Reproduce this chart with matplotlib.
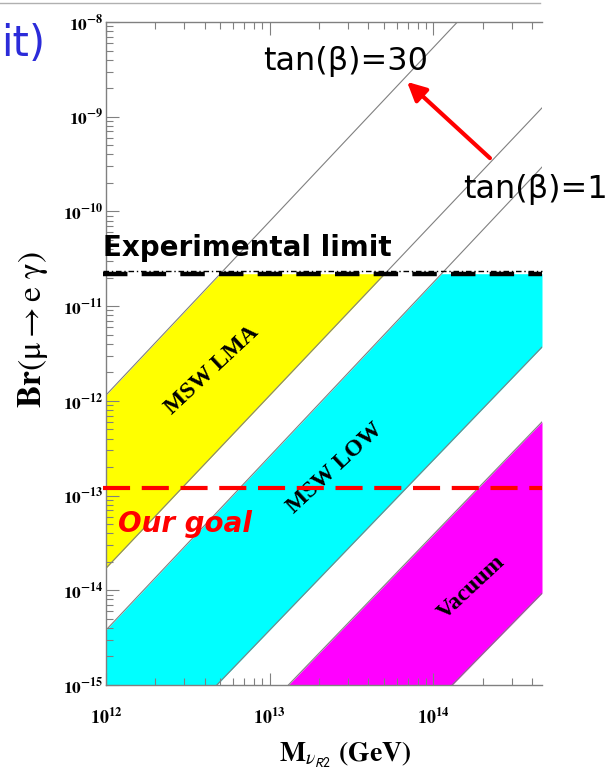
import numpy as np
import matplotlib
matplotlib.use("Agg")
import matplotlib.pyplot as plt
from matplotlib.ticker import FixedLocator, NullFormatter

plt.rcParams['mathtext.fontset'] = 'stix'

W, H = 608, 774

# axis ranges
m_min, m_max = 1e12, 4.6e14
br_min, br_max = 1e-15, 1e-8

# band edges: straight lines in log-log, each given by two (M, Br) points
lma_upper_M = [1e12, 1.40e14]
lma_upper_Br = [1.15e-12, 1e-8]          # tan(beta)=30
lma_lower_M = [1e12, 4.6e14]
lma_lower_Br = [1.71e-14, 1.24e-9]       # tan(beta)=1
low_upper_M = [1e12, 4.6e14]
low_upper_Br = [3.8e-15, 2.94e-10]
low_lower_M = [4.75e12, 4.6e14]
low_lower_Br = [1e-15, 3.7e-12]
vac_upper_M = [1.30e13, 4.6e14]
vac_upper_Br = [1e-15, 6.0e-13]
vac_lower_M = [1.30e14, 4.6e14]
vac_lower_Br = [1e-15, 9.3e-15]

exp_limit = 2.2e-11
our_goal = 1.2e-13

x_exponents = [12, 13, 14]
y_exponents = [-15, -14, -13, -12, -11, -10, -9, -8]

band_names = ['MSW LMA', 'MSW LOW', 'Vacuum']
band_colors = ['#ffff00', '#00ffff', '#ff00ff']
band_label_M = [4.45e12, 2.51e13, 1.71e14]
band_label_Br = [2.1e-12, 1.95e-13, 1.08e-14]


def edge(Ms, Brs, grid):
    lx = np.log10(Ms)
    ly = np.log10(Brs)
    s = (ly[1] - ly[0]) / (lx[1] - lx[0])
    return 10 ** (ly[0] + s * (np.log10(grid) - lx[0]))


fig = plt.figure(figsize=(W / 100, H / 100), dpi=100)
ax = fig.add_axes([106 / W, 1 - 685 / H, 436 / W, 663 / H])
ax.set_xscale('log')
ax.set_yscale('log')
ax.set_xlim(m_min, m_max)
ax.set_ylim(br_min, br_max)

grid = np.logspace(np.log10(m_min), np.log10(m_max), 800)
bands = [
    (lma_lower_M, lma_lower_Br, lma_upper_M, lma_upper_Br),
    (low_lower_M, low_lower_Br, low_upper_M, low_upper_Br),
    (vac_lower_M, vac_lower_Br, vac_upper_M, vac_upper_Br),
]
for (lm, lb, um, ub), col in zip(bands, band_colors):
    lo = np.clip(edge(lm, lb, grid), br_min, exp_limit)
    hi = np.clip(edge(um, ub, grid), br_min, exp_limit)
    ax.fill_between(grid, lo, hi, where=hi > lo, color=col, lw=0, zorder=1)
    for Ms, Brs in ((lm, lb), (um, ub)):
        ax.plot(grid, edge(Ms, Brs, grid), color='#808080', lw=0.8, zorder=2)

for name, mx, by in zip(band_names, band_label_M, band_label_Br):
    ax.text(mx, by, name, rotation=43, ha='center', va='center',
            rotation_mode='anchor', family='Liberation Serif',
            fontweight='bold', fontsize=17, zorder=3)

# experimental limit and goal
ax.axhline(exp_limit, xmin=-0.008, xmax=1, color='black', lw=3.2,
           dashes=(5.5, 3.2), clip_on=False, zorder=4)
ax.axhline(exp_limit * 1.06, xmin=-0.008, xmax=1, color='black', lw=1,
           ls=(0, (4, 2, 1, 2)), clip_on=False, zorder=4)
ax.axhline(our_goal, xmin=-0.008, xmax=1, color='red', lw=3,
           dashes=(6.5, 2.8), clip_on=False, zorder=4)

# axes styling
for side in ('left', 'bottom', 'top'):
    ax.spines[side].set_color('#808080')
    ax.spines[side].set_linewidth(1)
ax.spines['right'].set_visible(False)

ax.xaxis.set_major_locator(FixedLocator([10.0 ** e for e in x_exponents]))
ax.set_xticklabels([r'$\mathbf{10^{%d}}$' % e for e in x_exponents])
ax.xaxis.set_minor_locator(FixedLocator(
    [k * 10.0 ** e for e in range(12, 15) for k in range(2, 10)]))
ax.yaxis.set_major_locator(FixedLocator([10.0 ** e for e in y_exponents]))
ax.set_yticklabels([r'$\mathbf{10^{%d}}$' % e for e in y_exponents])
ax.yaxis.set_minor_locator(FixedLocator(
    [k * 10.0 ** e for e in range(-15, -8) for k in range(2, 10)]))
ax.xaxis.set_minor_formatter(NullFormatter())
ax.yaxis.set_minor_formatter(NullFormatter())
ax.tick_params(which='both', direction='in', top=True, right=False,
               color='#808080', width=0.8)
ax.tick_params(which='major', length=9)
ax.tick_params(which='minor', length=5)
ax.tick_params(axis='x', which='major', pad=16, labelsize=13)
ax.tick_params(axis='y', which='major', pad=2, labelsize=12.5)

# axis titles
fig.text(33 / W, 1 - 330 / H, r'$\mathbf{Br}\mathrm{(\mu{\rightarrow}e\ \gamma)}$',
         rotation=90, ha='center', va='center', fontsize=24)
fig.text(345 / W, 1 - 762 / H,
         r'$\mathbf{M}_{\nu_{\mathsf{R2}}}\ \mathbf{(GeV)}$',
         ha='center', va='baseline', fontsize=20)

# annotations
fig.text(103 / W, 1 - 256 / H, 'Experimental limit', family='DejaVu Sans',
         fontweight='bold', fontsize=20, color='black', va='baseline')
fig.text(118 / W, 1 - 532 / H, 'Our goal', family='DejaVu Sans',
         fontweight='bold', style='italic', fontsize=20, color='red',
         va='baseline')
fig.text(263 / W, 1 - 70 / H, 'tan(β)=30', family='DejaVu Sans',
         fontsize=23, color='black', va='baseline')
fig.text(463 / W, 1 - 198 / H, 'tan(β)=1', family='DejaVu Sans',
         fontsize=23, color='black', va='baseline')
fig.text(1 / W, 1 - 44 / H, 'it)', family='DejaVu Sans', fontsize=30,
         color='#2b2bd9', va='center', ha='left')

fig.patches.append(matplotlib.patches.FancyArrowPatch(
    (492, H - 160), (405, H - 80), transform=None, arrowstyle='-|>',
    mutation_scale=28, color='red', lw=3))
fig.lines.append(matplotlib.lines.Line2D([0, 540], [H - 3, H - 3],
                                         transform=None, color='#b0b0b0',
                                         lw=1))

fig.savefig('out.png', dpi=100)
